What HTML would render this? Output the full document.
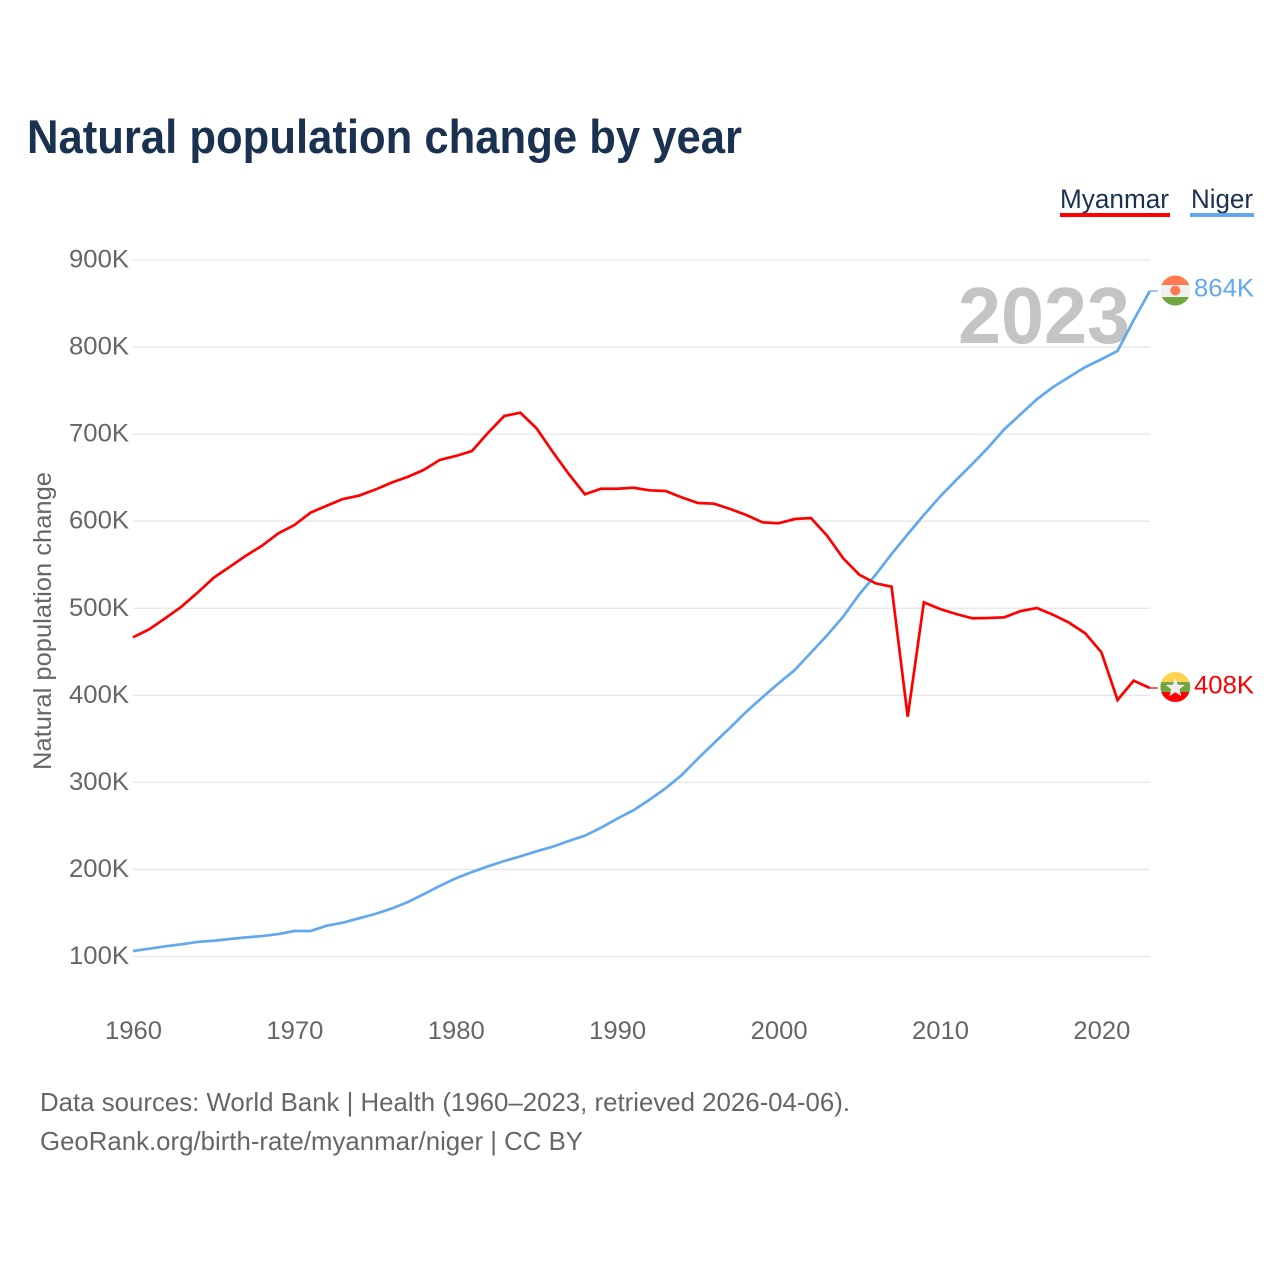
<!DOCTYPE html>
<html lang="en">
<head>
<meta charset="utf-8">
<title>Natural population change by year</title>
<style>
html,body{margin:0;padding:0;background:#fff;width:1280px;height:1280px;overflow:hidden}
svg{display:block}
text{font-family:"Liberation Sans",sans-serif}
</style>
</head>
<body>
<svg id="chart" xmlns="http://www.w3.org/2000/svg" width="1280" height="1280" viewBox="0 0 1280 1280">
  <defs>
    <clipPath id="flag-clip"><circle cx="0" cy="0" r="15"/></clipPath>
  </defs>
  <rect x="0" y="0" width="1280" height="1280" fill="#fff"/>
  <text x="27" y="153" font-size="47" font-weight="700" fill="#1a3150" textLength="715" lengthAdjust="spacingAndGlyphs">Natural population change by year</text>

  <g>
    <text x="1060" y="208" font-size="27" fill="#1a3150" textLength="109" lengthAdjust="spacingAndGlyphs">Myanmar</text>
    <rect x="1060" y="213" width="110" height="4" fill="#ff0000"/>
  </g>
  <g>
    <text x="1191" y="208" font-size="27" fill="#1a3150" textLength="62" lengthAdjust="spacingAndGlyphs">Niger</text>
    <rect x="1190" y="213" width="64" height="4" fill="#62a8ee"/>
  </g>

  <g id="grid"></g>
  <g id="yticks"></g>
  <g id="xticks"></g>

  <text transform="translate(51 621) rotate(-90)" text-anchor="middle" font-size="25" fill="#666" textLength="298" lengthAdjust="spacingAndGlyphs">Natural population change</text>

  <text x="958" y="343" font-size="80" font-weight="700" fill="#c4c4c4" textLength="172" lengthAdjust="spacingAndGlyphs">2023</text>

  <g id="series"></g>
  <g id="ends"></g>

  <text x="40" y="1111" font-size="26" fill="#666" textLength="810" lengthAdjust="spacingAndGlyphs">Data sources: World Bank | Health (1960–2023, retrieved 2026-04-06).</text>
  <text x="40" y="1150" font-size="26" fill="#666" textLength="543" lengthAdjust="spacingAndGlyphs">GeoRank.org/birth-rate/myanmar/niger | CC BY</text>
</svg>
<script>
const firstYear = 1960;
const yTickValues = [100, 200, 300, 400, 500, 600, 700, 800, 900];
const yTickLabels = ["100K", "200K", "300K", "400K", "500K", "600K", "700K", "800K", "900K"];
const xTickYears = [1960, 1970, 1980, 1990, 2000, 2010, 2020];
const xTickLabels = ["1960", "1970", "1980", "1990", "2000", "2010", "2020"];
const myanmarValues = [466.6, 475.8, 488.5, 501.8, 517.9, 535.1, 547.7, 560.4, 571.9, 586, 595.6, 609.8, 617.8, 625.5, 629.3, 636.2, 644.2, 650.8, 658.8, 670.3, 674.9, 680.6, 701.6, 720.8, 724.6, 706.7, 679.8, 654.2, 630.9, 637.3, 637.3, 638.5, 635.5, 634.7, 627.4, 620.9, 620.1, 614, 607.1, 598.7, 597.6, 602.5, 603.7, 583.4, 557.4, 538.6, 528.7, 524.8, 375.4, 506.8, 499.1, 493.4, 488.5, 488.8, 489.6, 496.8, 500.3, 492.6, 483.4, 471.2, 449.4, 394.6, 416.8, 408.4];
const nigerValues = [106.3, 109, 111.7, 114, 116.7, 118.1, 120.1, 122, 123.5, 125.8, 129.3, 129.3, 135.4, 138.8, 143.9, 148.8, 154.9, 162.3, 171.4, 181, 189.8, 197, 203.6, 209.7, 215, 220.8, 226.1, 232.7, 238.8, 248, 258.3, 267.9, 280.1, 293.2, 308.5, 327.2, 345.2, 362.8, 381.2, 397.7, 413.8, 429.1, 448.9, 468.9, 490.3, 516, 538.2, 562.3, 585, 607.1, 628.2, 647.3, 665.7, 684.9, 705.9, 723, 740, 754, 765.6, 777, 786, 795.5, 831, 864.4];
const myanmarEndLabel = "408K";
const nigerEndLabel = "864K";

const NS = "http://www.w3.org/2000/svg";
const xScale = function (year) { return 133 + (year - 1960) * 16.14; };
const yScale = function (v) { return 956.5 - (v - 100) * 0.8706; };
const make = function (tag, attrs, parent) {
  const el = document.createElementNS(NS, tag);
  for (const k in attrs) el.setAttribute(k, attrs[k]);
  parent.appendChild(el);
  return el;
};
const grid = document.getElementById("grid");
const yticks = document.getElementById("yticks");
const xticks = document.getElementById("xticks");
const series = document.getElementById("series");
const ends = document.getElementById("ends");

yTickValues.forEach(function (v, i) {
  const line = make("line", { x1: 133, x2: 1150, y1: yScale(v), y2: yScale(v), stroke: "#e6e6e6", "stroke-width": 1.3 }, grid);
  
  
  const t = make("text", { x: 129, y: yScale(v) + 7.5, "text-anchor": "end", "font-size": 25, fill: "#666", textLength: 60, lengthAdjust: "spacingAndGlyphs" }, yticks);
  t.textContent = yTickLabels[i];
  
  
});

xTickYears.forEach(function (yr, i) {
  const t = make("text", { x: xScale(yr) + 0.5, y: 1039, "text-anchor": "middle", "font-size": 25, fill: "#666", textLength: 57, lengthAdjust: "spacingAndGlyphs" }, xticks);
  t.textContent = xTickLabels[i];
  
  
});

const toPoints = function (values) {
  return values.map(function (v, i) {
    return xScale(firstYear + i).toFixed(2) + "," + yScale(v).toFixed(2);
  }).join(" ");
};
const nigerLine = make("polyline", { points: toPoints(nigerValues), fill: "none", stroke: "#62a8ee", "stroke-width": 2.7, "stroke-linejoin": "miter" }, series);


const myanmarLine = make("polyline", { points: toPoints(myanmarValues), fill: "none", stroke: "#ff0000", "stroke-width": 2.7, "stroke-linejoin": "miter" }, series);



const lastYear = firstYear + myanmarValues.length - 1;
const endX = xScale(lastYear);
const nigerY = yScale(nigerValues[nigerValues.length - 1]);
const myanmarY = yScale(myanmarValues[myanmarValues.length - 1]);

const nigerConn = make("line", { x1: endX, x2: endX + 8, y1: nigerY, y2: nigerY, stroke: "#62a8ee", "stroke-width": 1.3 }, ends);


const myanmarConn = make("line", { x1: endX, x2: endX + 8, y1: myanmarY, y2: myanmarY, stroke: "#ff0000", "stroke-width": 1.3 }, ends);



/* Niger flag */
const nigerFlag = make("g", { transform: "translate(" + (endX + 25.5) + " " + (nigerY - 0.5) + ")", "clip-path": "url(#flag-clip)" }, ends);


make("rect", { x: -15, y: -15, width: 30, height: 30, fill: "#f0f0f0" }, nigerFlag);
make("rect", { x: -15, y: -15, width: 30, height: 9.5, fill: "#ff7a50" }, nigerFlag);
make("rect", { x: -15, y: 6.5, width: 30, height: 9, fill: "#71a53f" }, nigerFlag);
make("circle", { cx: 0, cy: 0, r: 5, fill: "#ff7a50" }, nigerFlag);

/* Myanmar flag */
const myanmarFlag = make("g", { transform: "translate(" + (endX + 25.5) + " " + (myanmarY - 1) + ")", "clip-path": "url(#flag-clip)" }, ends);


make("rect", { x: -15, y: -15, width: 30, height: 10, fill: "#ffd34d" }, myanmarFlag);
make("rect", { x: -15, y: -5, width: 30, height: 10, fill: "#71a53f" }, myanmarFlag);
make("rect", { x: -15, y: 5, width: 30, height: 10, fill: "#ff0000" }, myanmarFlag);
make("polygon", { points: "0,-9 2.6,-2.2 9.5,-2.1 4.2,2.2 5.9,9.1 0,5.2 -5.9,9.1 -4.2,2.2 -9.5,-2.1 -2.6,-2.2", fill: "#eeeeee" }, myanmarFlag);

const nigerLabel = make("text", { x: 1194, y: nigerY + 5.5, "font-size": 25, fill: "#62a8ee", textLength: 60, lengthAdjust: "spacingAndGlyphs" }, ends);
nigerLabel.textContent = nigerEndLabel;


const myanmarLabel = make("text", { x: 1194, y: myanmarY + 5.5, "font-size": 25, fill: "#ff0000", textLength: 60, lengthAdjust: "spacingAndGlyphs" }, ends);
myanmarLabel.textContent = myanmarEndLabel;


</script>
</body>
</html>
